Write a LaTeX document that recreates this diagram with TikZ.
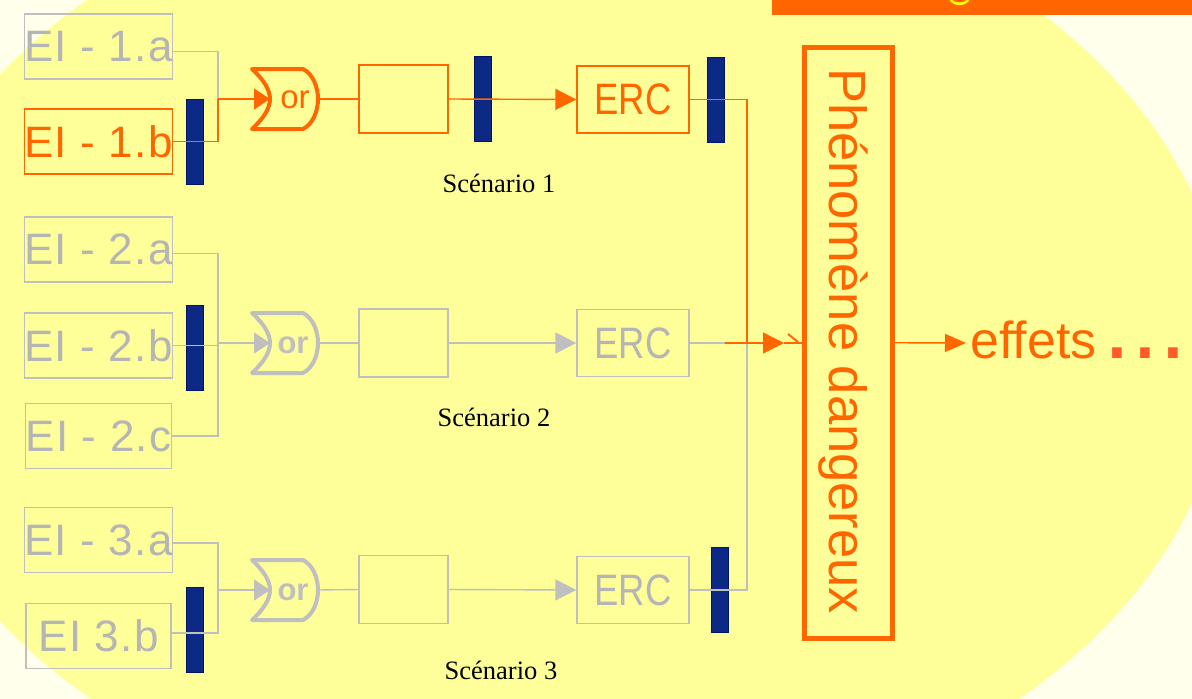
\documentclass[tikz,border=0pt]{standalone}
\usepackage{fontspec}
\setmainfont{Liberation Sans}
\newfontfamily\serifL{Liberation Serif}
\newfontfamily\narrowL{Liberation Sans}[FakeStretch=0.83]
\newfontfamily\eiL{Liberation Sans}[LetterSpace=3]
\usetikzlibrary{arrows.meta,calc}
\definecolor{orng}{HTML}{FF6600}
\definecolor{greyl}{HTML}{BFBFBF}
\definecolor{greyt}{HTML}{B5B5B5}
\definecolor{navy}{HTML}{0C2A85}
\definecolor{navyd}{HTML}{001466}
\definecolor{bgc}{HTML}{FFFFEC}
\definecolor{ell}{HTML}{FFFF99}
\definecolor{dotc}{HTML}{FF5A2A}
\definecolor{ttl}{HTML}{FFFF00}
\tikzset{
  eibox/.style={draw, line width=1.3pt, minimum width=145pt, minimum height=65pt, inner sep=0pt, font=\eiL\fontsize{44}{44}\selectfont},
  gbox/.style={draw=greyl, text=greyt},
  obox/.style={draw=orng, text=orng},
  bar/.style={fill=navy, draw=navyd, line width=0.8pt, inner sep=0pt, minimum width=17pt, minimum height=85pt},
  blank/.style={draw, line width=1.3pt, minimum width=89pt, minimum height=68pt, inner sep=0pt},
  ercbox/.style={draw, line width=1.3pt, minimum width=112pt, minimum height=67pt, inner sep=0pt, font=\narrowL\fontsize{44}{44}\selectfont},
  gline/.style={color=greyl, line width=1.4pt},
  oline/.style={color=orng, line width=1.4pt},
  garrow/.style={-{Triangle[length=16pt,width=21pt]}},
  earrow/.style={-{Triangle[length=21pt,width=21pt]}},
  scen/.style={font=\serifL\fontsize{26.5}{26.5}\selectfont, text=black, inner sep=0pt},
  ortxt/.style={inner sep=0pt, font=\fontsize{33}{33}\selectfont},
  orgate/.pic={
    \draw[line width=4pt, line join=round]
      (-42,-30) -- (9,-30) .. controls (19,-25) and (24,-12) .. (24,0)
      .. controls (24,12) and (19,25) .. (9,30) -- (-42,30)
      .. controls (-30,19) and (-24,9) .. (-24,0)
      .. controls (-24,-9) and (-30,-19) .. (-42,-30) -- cycle;
  }
}
\begin{document}
\begin{tikzpicture}[x=1pt,y=-1pt]
\useasboundingbox (0,0) rectangle (1192,699);
\clip (0,0) rectangle (1192,699);
% background
\fill[bgc] (0,0) rectangle (1192,699);
\fill[ell] (555,348) ellipse [x radius=672, y radius=485];
\fill[orng] (772,0) rectangle (1192,15);
\draw[ttl, line width=2.5pt] (951,0) .. controls (954,5) and (965,5) .. (968,0);

% bars
\node[bar] (bar11) at (195,141.5) {};
\node[bar] (bar12) at (482.5,99) {};
\node[bar] (bar13) at (715.5,99.5) {};
\node[bar] (bar21) at (195,347.5) {};
\node[bar] (bar31) at (195,629.5) {};
\node[bar] (bar32) at (720,590) {};

% EI boxes
\node[eibox,gbox] (e1a) at (98.5,46.5) {EI - 1.a};
\node[eibox,obox] (e1b) at (98.5,141.5) {EI - 1.b};
\node[eibox,gbox] (e2a) at (98.5,249.5) {EI - 2.a};
\node[eibox,gbox] (e2b) at (98.5,345.5) {EI - 2.b};
\node[eibox,gbox] (e2c) at (98.5,436) {EI - 2.c};
\node[eibox,gbox] (e3a) at (98.5,540) {EI - 3.a};
\node[eibox,gbox] (e3b) at (98.5,636) {EI 3.b};

% blank boxes
\node[blank,draw=orng] (b1) at (403.5,99) {};
\node[blank,draw=greyl] (b2) at (403.5,343) {};
\node[blank,draw=greyl] (b3) at (403.5,589.5) {};

% ERC boxes
\node[ercbox,obox] (erc1) at (633,99.5) {ERC};
\node[ercbox,gbox] (erc2) at (633,343) {ERC};
\node[ercbox,gbox] (erc3) at (633,590) {ERC};

% Phenomene
\node[draw=orng, line width=5pt, minimum width=88pt, minimum height=590.5pt, inner sep=0pt] (phen) at (848.5,342.75) {};
\node[rotate=-90, anchor=base west, inner sep=0pt, text=orng, font=\fontsize{52.5}{52.5}\selectfont] (phtext) at (829,68) {Phénomène dangereux};

% gates
\pic[color=orng] at (294,99) {orgate};
\pic[color=greyl] at (294,343) {orgate};
\pic[color=greyl] at (294,590) {orgate};
\node[ortxt, text=orng] (or1) at (295,100) {or};
\node[ortxt, text=greyl, font=\bfseries\fontsize{31}{31}\selectfont] (or2) at (293,345) {or};
\node[ortxt, text=greyl, font=\bfseries\fontsize{31}{31}\selectfont] (or3) at (293,592) {or};

\coordinate (j1) at (218,99);
\coordinate (j2) at (218,343);
\coordinate (j3) at (218,590);
\coordinate (gin1) at (270,99);
\coordinate (gin2) at (270,343);
\coordinate (gin3) at (270,590);
\coordinate (gout1) at (318,99);
\coordinate (gout2) at (318,343);
\coordinate (gout3) at (318,590);
\coordinate (c1) at (747,99.5);
\coordinate (c2) at (747,343);
\coordinate (o2start) at (725,343);
\coordinate (ptip) at (784,343);
\coordinate (effa) at (966,343);

% row 1
\draw[gline] ($(e1a.east)+(0,5)$) -| (j1);
\draw[oline] (e1b.east) -| (j1);
\draw[oline, garrow] (j1) -- (gin1);
\draw[oline] (gout1) -- (b1.west);
\draw[oline, earrow] (b1.east) -- (erc1.west);

% row 2
\draw[gline] ($(e2a.east)+(0,4)$) -| (j2) |- (e2c.east);
\draw[gline] (e2b.east) -- (e2b.east -| j2) -- (j2);
\draw[gline, garrow] (j2) -- (gin2);
\draw[gline] (gout2) -- (b2.west);
\draw[gline, earrow] (b2.east) -- (erc2.west);

% row 3
\draw[gline] ($(e3a.east)+(0,3)$) -| (j3);
\draw[gline] ($(e3b.east)+(0,-3)$) -| (j3);
\draw[gline, garrow] (j3) -- (gin3);
\draw[gline] (gout3) -- (b3.west);
\draw[gline, earrow] (b3.east) -- (erc3.west);

% collection to phenomene
\draw[gline] (erc2.east) -- (o2start);
\draw[gline] (erc3.east) -| (c2);
\draw[oline] (erc1.east) -- (c1) -- (c2);
\draw[oline, earrow] (o2start) -- (ptip);
\draw[oline] (ptip) -- (ptip -| phen.west);
\draw[oline, line width=2pt] (788,334) -- (798,342);

% effets
\node[anchor=base west, inner sep=0pt, text=orng, font=\fontsize{52}{52}\selectfont] (eff) at (970,358) {effets\hspace{7pt}{\color{dotc}\fontsize{100}{100}\selectfont...}};
\draw[oline, -{Triangle[length=21pt,width=18pt]}] (phen.east) -- (effa);

% scenario labels
\node[scen] (s1) at (499,183) {Scénario 1};
\node[scen] (s2) at (494,417) {Scénario 2};
\node[scen] (s3) at (501,670) {Scénario 3};
\end{tikzpicture}
\end{document}
